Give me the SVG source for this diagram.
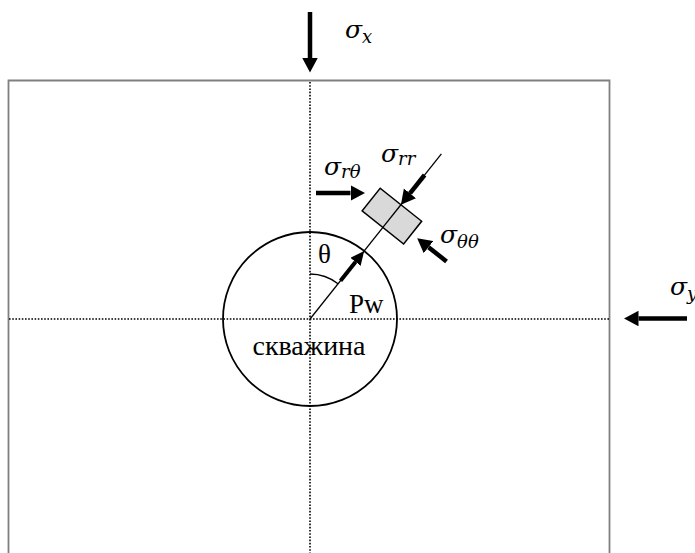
<svg xmlns="http://www.w3.org/2000/svg" width="695" height="553" viewBox="0 0 695 553">
<style>
.frame{fill:none;stroke:#808080;stroke-width:1.8}
.dot{fill:none;stroke:#000;stroke-width:1.6;stroke-dasharray:1.6 1.6}
.thin{fill:none;stroke:#000;stroke-width:1.3}
.arr{fill:none;stroke:#000;stroke-width:4.5;marker-end:url(#ah)}
.arrs{fill:none;stroke:#000;stroke-width:4;marker-end:url(#ahs)}
.lbl{font-family:"Liberation Serif","Times New Roman",serif;font-size:27px;fill:#000}
.sig{font-family:"DejaVu Serif","Liberation Serif",serif;font-style:italic;font-size:25px;fill:#000}
.sub{font-size:18px}
</style>
<defs>
<marker id="ah" markerUnits="userSpaceOnUse" markerWidth="16" markerHeight="16" refX="0" refY="7.75" orient="auto">
<path d="M0,0 L14.5,7.75 L0,15.5 z" fill="#000"/>
</marker>
<marker id="ahs" markerUnits="userSpaceOnUse" markerWidth="16" markerHeight="16" refX="0" refY="6.5" orient="auto">
<path d="M0,0 L14,6.5 L0,13 z" fill="#000"/>
</marker>
</defs>
<g id="frame">
<path class="frame" d="M8.5,553 V80.5 H609.5 V553"/>
</g>
<g id="axes">
<line class="dot" x1="310" y1="82" x2="310" y2="553"/>
<line class="dot" x1="9" y1="319" x2="609" y2="319"/>
</g>
<g id="borehole">
<circle cx="310" cy="319" r="87" fill="none" stroke="#000" stroke-width="1.8"/>
<path class="thin" d="M310,274 A45,45 0 0 1 338,283.8"/>
<text class="lbl" x="318" y="263">θ</text>
<text class="lbl" x="349" y="313">Pw</text>
<text class="lbl" x="309" y="355" text-anchor="middle" style="font-size:28px">скважина</text>
</g>
<g id="element" transform="translate(391.9,216.1) rotate(38.5)">
<line class="thin" x1="0" y1="131.5" x2="0" y2="-79.5"/>
<rect x="-26.5" y="-14.5" width="53" height="29" fill="#d9d9d9" stroke="#000" stroke-width="1.5"/>
<line class="thin" x1="0" y1="-14.5" x2="0" y2="14.5"/>
</g>
<g id="connectors">
<line class="arr" x1="310" y1="12" x2="310" y2="58"/>
<line class="arr" x1="687" y1="318.5" x2="638.5" y2="318.5"/>
<line class="arr" x1="316" y1="193" x2="350.5" y2="193"/>
<g transform="translate(391.9,216.1) rotate(38.5)">
<line class="arr" x1="0" y1="-52.5" x2="0" y2="-29"/>
<line class="arrs" x1="0" y1="82.5" x2="0" y2="58.5"/>
<line class="arr" x1="71" y1="1.5" x2="48" y2="1.5"/>
</g>
</g>
<g id="labels">
<text class="sig" x="345" y="38">σ<tspan class="sub" dy="5">x</tspan></text>
<text class="sig" x="324" y="175">σ<tspan class="sub" dy="3">rθ</tspan></text>
<text class="sig" x="381" y="162">σ<tspan class="sub" dy="3">rr</tspan></text>
<text class="sig" x="440" y="243">σ<tspan class="sub" dy="5">θθ</tspan></text>
<text class="sig" x="670" y="295">σ<tspan class="sub" dy="5">y</tspan></text>
</g>
</svg>
